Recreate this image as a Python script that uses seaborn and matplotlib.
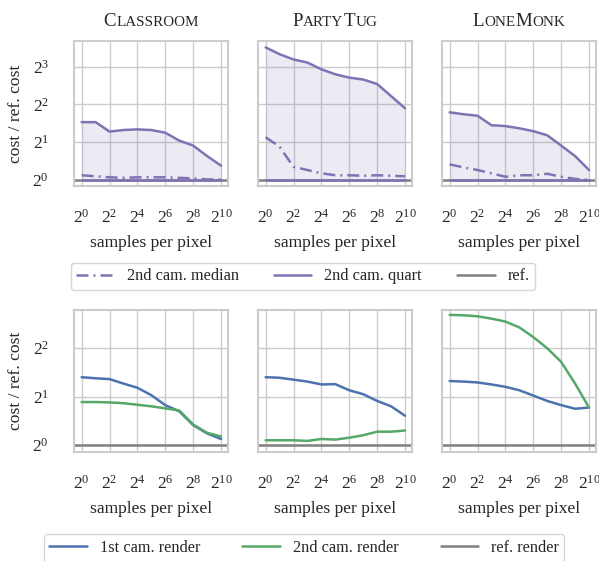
import numpy as np
import matplotlib
matplotlib.use("Agg")
import matplotlib.pyplot as plt
import matplotlib.ticker as mticker
from matplotlib.lines import Line2D
import seaborn as sns

# samples per pixel (x axis)
spp = [1, 2, 4, 8, 16, 32, 64, 128, 256, 512, 1024]
scenes = ["Classroom", "PartyTug", "LoneMonk"]

# top row: second camera cost / reference cost
median_2nd = {
    "Classroom": [1.09, 1.07, 1.05, 1.04, 1.05, 1.05, 1.05, 1.04, 1.03, 1.01, 1.01],
    "PartyTug": [2.19, 1.84, 1.27, 1.20, 1.13, 1.09, 1.09, 1.08, 1.09, 1.08, 1.07],
    "LoneMonk": [1.33, 1.26, 1.20, 1.13, 1.06, 1.09, 1.09, 1.12, 1.06, 1.02, 1.00],
}
quart_hi = {
    "Classroom": [2.89, 2.89, 2.43, 2.50, 2.53, 2.50, 2.38, 2.06, 1.88, 1.55, 1.30],
    "PartyTug": [11.39, 10.06, 9.13, 8.63, 7.62, 6.96, 6.54, 6.32, 5.82, 4.66, 3.73],
    "LoneMonk": [3.46, 3.34, 3.25, 2.73, 2.69, 2.58, 2.45, 2.27, 1.88, 1.55, 1.20],
}
quart_lo = {
    "Classroom": [1.0] * 11,
    "PartyTug": [1.0] * 11,
    "LoneMonk": [1.0] * 11,
}

# bottom row: render cost / reference render cost
first_render = {
    "Classroom": [2.64, 2.60, 2.57, 2.41, 2.27, 2.04, 1.77, 1.62, 1.33, 1.18, 1.09],
    "PartyTug": [2.64, 2.62, 2.55, 2.48, 2.38, 2.39, 2.19, 2.07, 1.88, 1.74, 1.52],
    "LoneMonk": [2.50, 2.48, 2.45, 2.38, 2.30, 2.19, 2.03, 1.88, 1.77, 1.68, 1.71],
}
second_render = {
    "Classroom": [1.85, 1.85, 1.84, 1.82, 1.78, 1.74, 1.69, 1.64, 1.34, 1.19, 1.13],
    "PartyTug": [1.07, 1.07, 1.07, 1.06, 1.09, 1.08, 1.11, 1.15, 1.21, 1.21, 1.23],
    "LoneMonk": [6.45, 6.41, 6.32, 6.11, 5.86, 5.39, 4.69, 4.00, 3.29, 2.41, 1.71],
}
ref_value = 1.0

sns.set_theme(style="whitegrid")
plt.rcParams["font.family"] = "serif"
plt.rcParams["font.serif"] = ["Liberation Serif", "DejaVu Serif"]
plt.rcParams["mathtext.fontset"] = "custom"
plt.rcParams["mathtext.rm"] = "Liberation Serif"
plt.rcParams["mathtext.it"] = "Liberation Serif:italic"

purple = "#8172B3"
blue = "#4C72B0"
green = "#55A868"
grey = "#808080"
lw = 1.8
dashdot = (0, (4.8, 2.0, 0.8, 2.0))
fs = 12.6

fig, axes = plt.subplots(2, 3, figsize=(5.99, 5.61), dpi=100)
W, H = 599.0, 561.0
lefts = [74, 258, 442]
rows = [(41, 186), (310, 452)]
for r in range(2):
    for c in range(3):
        top, bot = rows[r]
        axes[r, c].set_position([lefts[c] / W, (H - bot) / H, 154 / W, (bot - top) / H])


def style_axis(ax, ylim, yticks, first):
    ax.set_xscale("log", base=2)
    ax.set_yscale("log", base=2)
    ax.set_xlim(2 ** -0.55, 2 ** 10.5)
    ax.set_ylim(*ylim)
    ax.xaxis.set_major_locator(mticker.FixedLocator([2 ** k for k in range(0, 11, 2)]))
    ax.xaxis.set_minor_locator(mticker.NullLocator())
    ax.yaxis.set_major_locator(mticker.FixedLocator(yticks))
    ax.yaxis.set_minor_locator(mticker.NullLocator())
    ax.xaxis.set_major_formatter(mticker.LogFormatterMathtext(base=2))
    ax.yaxis.set_major_formatter(mticker.LogFormatterMathtext(base=2))
    ax.tick_params(axis="x", labelsize=fs, length=0, pad=16.5)
    ax.tick_params(axis="y", labelsize=fs, length=0, pad=18)
    ax.set_xlabel("samples per pixel", fontsize=fs, labelpad=6)
    if first:
        ax.set_ylabel("cost / ref. cost", fontsize=fs, labelpad=6)
    else:
        ax.set_ylabel("")
        ax.tick_params(axis="y", labelleft=False)
    for s in ax.spines.values():
        s.set_color("0.8")
        s.set_linewidth(1.5)


for c, sc in enumerate(scenes):
    ax = axes[0, c]
    ax.axhline(ref_value, color=grey, lw=lw)
    ax.fill_between(spp, quart_lo[sc], quart_hi[sc], color=purple, alpha=0.15, lw=0)
    sns.lineplot(x=spp, y=quart_lo[sc], ax=ax, color=purple, lw=lw)
    sns.lineplot(x=spp, y=quart_hi[sc], ax=ax, color=purple, lw=lw)
    sns.lineplot(x=spp, y=median_2nd[sc], ax=ax, color=purple, lw=lw, linestyle=dashdot)
    style_axis(ax, (2 ** -0.16, 2 ** 3.68), [1, 2, 4, 8], c == 0)

    ax = axes[1, c]
    ax.axhline(ref_value, color=grey, lw=lw)
    sns.lineplot(x=spp, y=first_render[sc], ax=ax, color=blue, lw=lw)
    sns.lineplot(x=spp, y=second_render[sc], ax=ax, color=green, lw=lw)
    style_axis(ax, (2 ** -0.145, 2 ** 2.79), [1, 2, 4], c == 0)


# small caps titles
renderer = fig.canvas.get_renderer()


def smallcaps_title(ax, word, size=13.6, ratio=0.8, lift=15):
    parts = []
    for ch in word:
        big = ch.isupper()
        if parts and parts[-1][1] == big:
            parts[-1][0] += ch.upper()
        else:
            parts.append([ch.upper(), big])
    texts, widths = [], []
    for s, big in parts:
        t = ax.text(0, 0, s, transform=ax.transAxes, fontsize=size if big else size * ratio,
                    va="baseline", ha="left")
        texts.append(t)
        widths.append(t.get_window_extent(renderer).width)
    total = sum(widths)
    x = -total / 2
    y = 1 + lift / ax.bbox.height
    for t, w in zip(texts, widths):
        t.set_position((0.5 + x / ax.bbox.width, y))
        x += w


for c, sc in enumerate(scenes):
    smallcaps_title(axes[0, c], sc)

top_handles = [
    Line2D([], [], color=purple, lw=lw, linestyle=dashdot),
    Line2D([], [], color=purple, lw=lw),
    Line2D([], [], color=grey, lw=lw),
]
fig.legend(top_handles, ["2nd cam. median", "2nd cam. quart", "ref."],
           loc="center", bbox_to_anchor=(303 / W, 1 - 276.5 / H), ncol=3,
           fontsize=11.7, handlelength=2.3, columnspacing=2.17, frameon=True,
           edgecolor="0.8", borderpad=0.35)

bot_handles = [
    Line2D([], [], color=blue, lw=lw),
    Line2D([], [], color=green, lw=lw),
    Line2D([], [], color=grey, lw=lw),
]
fig.legend(bot_handles, ["1st cam. render", "2nd cam. render", "ref. render"],
           loc="center", bbox_to_anchor=(304 / W, 1 - 548 / H), ncol=3,
           fontsize=11.7, handlelength=2.3, columnspacing=2.6, frameon=True,
           edgecolor="0.8", borderpad=0.35)

fig.savefig("out.png", dpi=100)
